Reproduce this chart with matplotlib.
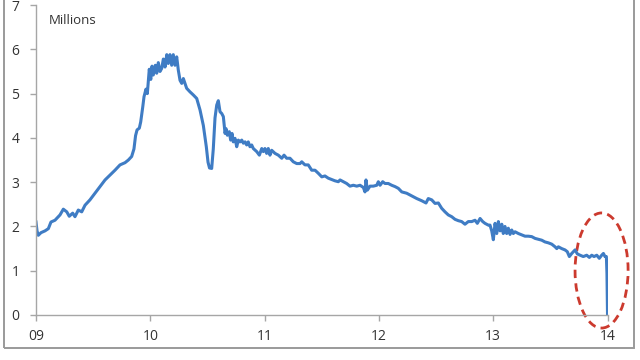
import numpy as np
import matplotlib
matplotlib.use("Agg")
import matplotlib.pyplot as plt
from matplotlib.patches import Ellipse, Rectangle

# time in years since start of 2009, values in millions
t = [0.000, 0.009, 0.020, 0.044, 0.079, 0.108, 0.131, 0.166, 0.210, 0.239,
     0.269, 0.291, 0.321, 0.341, 0.370, 0.400, 0.429, 0.472, 0.516, 0.560,
     0.604, 0.647, 0.691, 0.735, 0.779, 0.808, 0.837, 0.857, 0.871, 0.884,
     0.904, 0.916, 0.934, 0.945, 0.962, 0.974, 0.991, 1.004, 1.015, 1.026,
     1.044, 1.056, 1.070, 1.085, 1.100, 1.114, 1.129, 1.144, 1.157, 1.172,
     1.187, 1.201, 1.216, 1.231, 1.245, 1.260, 1.275, 1.289, 1.304, 1.318,
     1.347, 1.376, 1.406, 1.435, 1.464, 1.490, 1.505, 1.518, 1.537, 1.551,
     1.566, 1.581, 1.595, 1.610, 1.625, 1.639, 1.654, 1.662, 1.674, 1.691,
     1.703, 1.715, 1.726, 1.741, 1.756, 1.770, 1.785, 1.800, 1.814, 1.829,
     1.843, 1.857, 1.872, 1.887, 1.901, 1.931, 1.954, 1.975, 1.989, 2.003,
     2.018, 2.032, 2.047, 2.062, 2.091, 2.120, 2.150, 2.170, 2.193, 2.222,
     2.251, 2.281, 2.310, 2.325, 2.353, 2.382, 2.412, 2.441, 2.470, 2.500,
     2.528, 2.557, 2.587, 2.616, 2.645, 2.660, 2.689, 2.718, 2.747, 2.776,
     2.806, 2.835, 2.864, 2.878, 2.887, 2.899, 2.922, 2.951, 2.981, 2.995,
     3.010, 3.033, 3.053, 3.082, 3.112, 3.141, 3.170, 3.200, 3.243, 3.287,
     3.331, 3.375, 3.412, 3.432, 3.462, 3.491, 3.520, 3.549, 3.578, 3.607,
     3.637, 3.666, 3.695, 3.724, 3.753, 3.782, 3.812, 3.841, 3.861, 3.885,
     3.908, 3.928, 3.957, 3.972, 3.987, 4.001, 4.016, 4.031, 4.045, 4.060,
     4.075, 4.088, 4.103, 4.118, 4.132, 4.147, 4.162, 4.176, 4.191, 4.220,
     4.249, 4.278, 4.307, 4.337, 4.366, 4.395, 4.424, 4.453, 4.482, 4.512,
     4.541, 4.556, 4.570, 4.599, 4.628, 4.648, 4.666, 4.687, 4.701, 4.716,
     4.736, 4.760, 4.788, 4.818, 4.841, 4.862, 4.882, 4.906, 4.928, 4.949,
     4.964, 4.978, 4.990, 4.995, 5.000]
claims = [2.10, 1.90, 1.80, 1.86, 1.90, 1.95, 2.10, 2.14, 2.26, 2.39,
          2.33, 2.23, 2.30, 2.22, 2.37, 2.33, 2.48, 2.60, 2.75, 2.90,
          3.05, 3.16, 3.27, 3.39, 3.44, 3.50, 3.58, 3.75, 4.05, 4.18,
          4.22, 4.36, 4.70, 4.93, 5.10, 5.00, 5.55, 5.32, 5.62, 5.42,
          5.64, 5.46, 5.70, 5.50, 5.57, 5.78, 5.60, 5.88, 5.68, 5.88,
          5.64, 5.88, 5.64, 5.83, 5.53, 5.30, 5.23, 5.34, 5.23, 5.12,
          5.04, 4.97, 4.89, 4.63, 4.28, 3.80, 3.45, 3.32, 3.31, 3.75,
          4.45, 4.74, 4.84, 4.59, 4.55, 4.48, 4.10, 4.21, 4.06, 4.14,
          3.95, 4.10, 3.91, 3.99, 3.80, 3.95, 3.91, 3.95, 3.88, 3.91,
          3.84, 3.91, 3.80, 3.84, 3.76, 3.69, 3.61, 3.76, 3.69, 3.76,
          3.65, 3.76, 3.61, 3.72, 3.65, 3.61, 3.54, 3.61, 3.54, 3.54,
          3.46, 3.42, 3.42, 3.46, 3.39, 3.39, 3.27, 3.27, 3.20, 3.12,
          3.14, 3.09, 3.06, 3.03, 3.01, 3.05, 3.01, 2.97, 2.91, 2.93,
          2.91, 2.93, 2.88, 2.78, 3.05, 2.82, 2.91, 2.91, 2.93, 3.01,
          2.93, 3.01, 2.97, 2.97, 2.93, 2.90, 2.86, 2.78, 2.75, 2.69,
          2.63, 2.58, 2.53, 2.63, 2.60, 2.52, 2.53, 2.41, 2.33, 2.26,
          2.22, 2.16, 2.13, 2.11, 2.05, 2.11, 2.11, 2.14, 2.07, 2.18,
          2.11, 2.07, 2.03, 2.03, 1.90, 1.70, 2.07, 1.84, 2.11, 1.90,
          2.05, 1.84, 2.00, 1.84, 1.96, 1.82, 1.92, 1.84, 1.88, 1.84,
          1.81, 1.78, 1.78, 1.77, 1.73, 1.71, 1.69, 1.65, 1.63, 1.60,
          1.54, 1.50, 1.54, 1.50, 1.47, 1.43, 1.32, 1.39, 1.43, 1.47,
          1.38, 1.35, 1.32, 1.35, 1.30, 1.35, 1.32, 1.35, 1.28, 1.35,
          1.39, 1.32, 1.32, 0.94, 0.00]

year_labels = ["09", "10", "11", "12", "13", "14"]
y_ticks = [0, 1, 2, 3, 4, 5, 6, 7]

plt.rcParams['font.family'] = ['Open Sans', 'DejaVu Sans']
text_col = '#333333'
axis_col = '#a6a6a6'

fig = plt.figure(figsize=(6.4, 3.6), dpi=100)
ax = fig.add_axes([0.05625, 0.125, 0.8930, 0.861])

# outer chart frame
fig.patches.append(Rectangle((4 / 640, 12 / 360), 630 / 640, 1.1, transform=fig.transFigure,
                             fill=False, edgecolor='#9a9a9a', linewidth=1.4))

ax.plot(t, claims, color='#3f7cc4', linewidth=2.2, solid_joinstyle='round')

ax.add_patch(Ellipse((4.948, 1.005), 0.464, 2.60, fill=False, edgecolor='#cc3a2e',
                     linewidth=2.0, linestyle=(0, (3.0, 1.9)), clip_on=False))

ax.set_xlim(0, 5)
ax.set_ylim(0, 7)
ax.set_xticks(range(len(year_labels)))
ax.set_xticklabels(year_labels)
ax.set_yticks(y_ticks)

for s in ['top', 'right']:
    ax.spines[s].set_visible(False)
for s in ['left', 'bottom']:
    ax.spines[s].set_color(axis_col)
    ax.spines[s].set_linewidth(1.0)
ax.tick_params(axis='both', colors=axis_col, length=4, width=1.0, labelsize=10,
               labelcolor=text_col)
ax.tick_params(axis='y', pad=8)
ax.tick_params(axis='x', pad=6)

ax.text(0.114, 6.64, 'Millions', fontsize=9.5, color=text_col, va='center')

fig.savefig('out.png', dpi=100)
